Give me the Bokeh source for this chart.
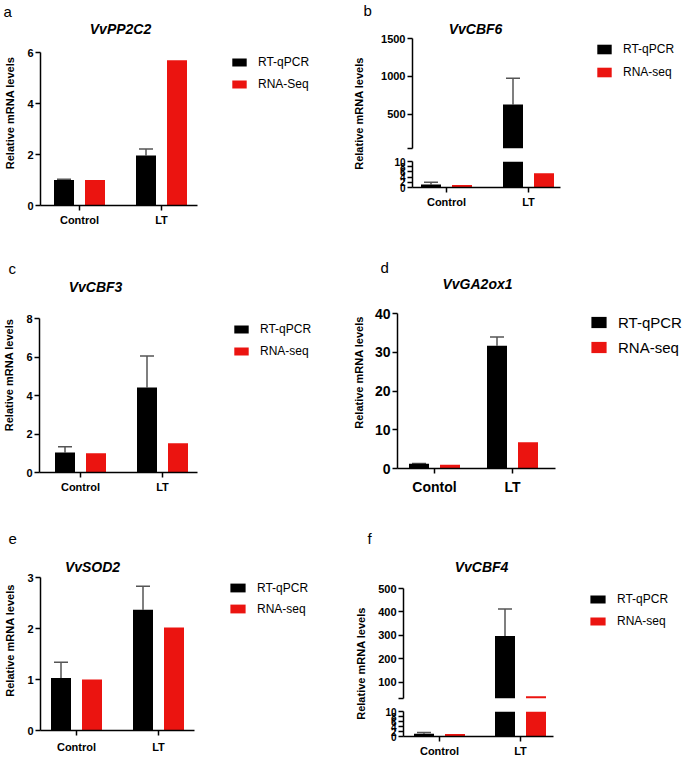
import math
from bokeh.plotting import figure
from bokeh.models import Range1d, FixedTicker, Label, Legend, LegendItem
from bokeh.layouts import row, column
from bokeh.embed import file_html
from bokeh.resources import INLINE

FONT = "Liberation Sans"
BLACK = "#000000"
RED = "#EB1410"
ERR = "#555555"

# ---------------- data ----------------
categories = ["Control", "LT"]
categories_d = ["Contol", "LT"]
series = ["RT-qPCR", "RNA-seq"]
series_a = ["RT-qPCR", "RNA-Seq"]
y_title = "Relative mRNA levels"

genes = ["VvPP2C2", "VvCBF6", "VvCBF3", "VvGA2ox1", "VvSOD2", "VvCBF4"]
letters = ["a", "b", "c", "d", "e", "f"]

a_rt = [1.0, 1.96]
a_err = [0.03, 0.26]
a_seq = [1.0, 5.7]

b_rt = [1.2, 630.0]
b_err = [0.8, 345.0]
b_seq = [1.0, 5.5]

c_rt = [1.04, 4.42]
c_err = [0.3, 1.63]
c_seq = [1.0, 1.52]

d_rt = [1.2, 31.7]
d_err = [0.1, 2.3]
d_seq = [1.0, 6.8]

e_rt = [1.03, 2.37]
e_err = [0.31, 0.46]
e_seq = [1.0, 2.02]

f_rt = [1.1, 297.0]
f_err = [0.5, 115.0]
f_seq = [1.0, 40.0]

a_ticks = [0, 2, 4, 6]
b_ticks_top = [50, 500, 1000, 1500]
b_ticks_low = [0, 2, 4, 6, 8, 10]
c_ticks = [0, 2, 4, 6, 8]
d_ticks = [0, 10, 20, 30, 40]
e_ticks = [0, 1, 2, 3]
f_ticks_top = [30, 100, 200, 300, 400, 500]
f_ticks_low = [0, 2, 4, 6, 8, 10]


# ---------------- helpers ----------------
def make_main(x0, y0, w, h, fl, fb, axis_top, ylo, yhi, t, axis_right, ft=None, show_x=True):
    """Figure whose frame starts at the y axis (fl) and x axis (fb) and runs to the
    canvas top/right; the axes are bounded to their drawn extent."""
    if ft is None:
        ft = y0
    ppu = (fb - axis_top) / (yhi - ylo)
    y_end = yhi + (axis_top - ft) / ppu
    scale = t[1] - t[0]
    xs = -(t[0] - fl) / scale
    xe = 1 + (x0 + w - t[1]) / scale
    xb_end = 1 + (axis_right - t[1]) / scale
    p = figure(width=w, height=h, x_range=Range1d(xs, xe), y_range=Range1d(ylo, y_end),
               output_backend="svg", toolbar_location=None,
               min_border_left=fl - x0, min_border_right=0,
               min_border_top=ft - y0, min_border_bottom=y0 + h - fb,
               x_axis_location="below" if show_x else None)
    p.frame_align = False
    p.grid.visible = False
    p.outline_line_color = None
    p.yaxis[0].bounds = (ylo, yhi)
    if show_x:
        p.xaxis[0].bounds = (xs, xb_end)
    return p, dict(fl=fl, fb=fb, scale=scale, lo=ylo)


def plain_fig(w, h):
    p = figure(width=w, height=h, output_backend="svg", toolbar_location=None,
               min_border_left=0, min_border_right=0, min_border_top=0, min_border_bottom=0,
               x_axis_location=None, y_axis_location=None,
               x_range=Range1d(0, 1), y_range=Range1d(0, 1))
    p.frame_align = False
    p.grid.visible = False
    p.outline_line_color = None
    return p


def text_at(p, x0, y0, h, px, py, text, size, style="normal", align="left", angle=0.0):
    """Label at page position (px, py) inside a figure whose frame is the canvas."""
    p.add_layout(Label(x=px - x0, y=(y0 + h) - py, x_units="screen", y_units="screen",
                       text=text, text_font=FONT, text_font_size=size, text_font_style=style,
                       text_align=align, text_baseline="middle", angle=angle,
                       text_color="black"))


def page_label(p, g, px, py, text, size, style="normal", align="center"):
    p.add_layout(Label(x=px - g["fl"], y=g["fb"] - py, x_units="screen", y_units="screen",
                       text=text, text_font=FONT, text_font_size=size, text_font_style=style,
                       text_align=align, text_baseline="middle", text_color="black"))


def add_bars(p, g, rt, err, seq):
    s = g["scale"]
    lo = g["lo"]
    off = 15.5 / s
    bw = 20.0 / s
    cap = 7.0 / s
    idx = list(range(len(categories)))
    xb = [i - off for i in idx]
    xr = [i + off for i in idx]
    up = [v + e for v, e in zip(rt, err)]
    p.segment(x0=xb, y0=rt, x1=xb, y1=up, line_color=ERR, line_width=1.5)
    p.segment(x0=[x - cap for x in xb], y0=up, x1=[x + cap for x in xb], y1=up,
              line_color=ERR, line_width=1.5)
    r1 = p.vbar(x=xb, top=[max(v, lo) for v in rt], bottom=lo, width=bw,
                fill_color=BLACK, line_color=None)
    r2 = p.vbar(x=xr, top=[max(v, lo) for v in seq], bottom=lo, width=bw,
                fill_color=RED, line_color=None)
    return r1, r2


def add_legend(p, g, rends, labels, gx, gtop, gw, gh, pitch, size):
    fs = int(size.replace("px", ""))
    item_h = max(gh, round(fs * 1.15))
    sp = pitch - item_h
    top = gtop - (item_h - gh) / 2
    H = item_h * 2 + sp
    leg = Legend(items=[LegendItem(label=l, renderers=[r]) for l, r in zip(labels, rends)],
                 location=(gx - g["fl"], g["fb"] - (top + H)),
                 orientation="vertical", padding=0, margin=0,
                 border_line_color=None, background_fill_alpha=0,
                 glyph_width=gw, glyph_height=gh, label_height=gh,
                 label_standoff=10, spacing=sp,
                 label_text_font=FONT, label_text_font_size=size,
                 label_text_color="black", label_text_baseline="middle")
    p.add_layout(leg)


def style_axis(ax, size, tick_out=5, standoff=2):
    ax.axis_line_color = "black"
    ax.axis_line_width = 1.5
    ax.major_tick_line_color = "black"
    ax.major_tick_line_width = 1.5
    ax.major_tick_out = tick_out
    ax.major_tick_in = 0
    ax.minor_tick_line_color = None
    ax.major_label_text_font = FONT
    ax.major_label_text_font_style = "bold"
    ax.major_label_text_font_size = size
    ax.major_label_standoff = standoff
    ax.major_label_text_color = "black"


def style_y(p, ticks, size, label=None, lab_standoff=6, overrides=None):
    ax = p.yaxis[0]
    ax.ticker = FixedTicker(ticks=ticks)
    style_axis(ax, size)
    if overrides:
        ax.major_label_overrides = overrides
    if label:
        ax.axis_label = label
        ax.axis_label_text_font = FONT
        ax.axis_label_text_font_style = "bold"
        ax.axis_label_text_font_size = "11px"
        ax.axis_label_standoff = lab_standoff
        ax.axis_label_text_color = "black"


def style_x(p, cats, size, standoff=3):
    ax = p.xaxis[0]
    ax.ticker = FixedTicker(ticks=list(range(len(cats))))
    ax.major_label_overrides = {i: c for i, c in enumerate(cats)}
    style_axis(ax, size, standoff=standoff)


LW = 340   # left column width
RW = 344   # right column width
BOTTOM = 759

# ================= left column =================
SA = plain_fig(LW, 20)
text_at(SA, 0, 0, 20, 3, 11, letters[0], "15px")
A, ga = make_main(0, 20, LW, 210, 40, 205, 52, 0, 6, (79, 161), 197)
ra = add_bars(A, ga, a_rt, a_err, a_seq)
style_y(A, a_ticks, "11px", y_title, 8)
style_x(A, categories, "11px")
page_label(A, ga, 120, 28.5, genes[0], "14px", "bold italic")
add_legend(A, ga, ra, series_a, 230, 57, 18, 10, 22, "12px")

SC = plain_fig(LW, 47)
text_at(SC, 0, 230, 47, 8, 268, letters[2], "15px")
C, gc = make_main(0, 277, LW, 220, 39, 472, 318, 0, 8, (80, 162), 197)
rc = add_bars(C, gc, c_rt, c_err, c_seq)
style_y(C, c_ticks, "11px", y_title, 8)
style_x(C, categories, "11px")
page_label(C, gc, 95, 286, genes[2], "14px", "bold italic")
add_legend(C, gc, rc, series, 232, 324, 18, 10, 22, "12px")

SE = plain_fig(LW, 53)
text_at(SE, 0, 497, 53, 8, 538, letters[4], "15px")
E, ge = make_main(0, 550, LW, BOTTOM - 550, 40, 730, 577, 0, 3, (76, 158), 194)
re_ = add_bars(E, ge, e_rt, e_err, e_seq)
style_y(E, e_ticks, "11px", y_title, 8)
style_x(E, categories, "11px", standoff=5)
page_label(E, ge, 92, 566, genes[4], "14px", "bold italic")
add_legend(E, ge, re_, series, 228, 582, 19, 11, 21, "12px")

# ================= right column =================
# panel b (broken axis)
LBW = 34
Lb = plain_fig(LBW, 210)
text_at(Lb, 340, 0, 210, 358, 113, y_title, "11px", "bold", "center", math.pi / 2)
text_at(Lb, 340, 0, 210, 363, 9.5, letters[1], "15px")
B1, gb1 = make_main(374, 0, RW - LBW, 154, 412, 148, 38, 50, 1500, (446, 528), 560,
                    show_x=False)
rb = add_bars(B1, gb1, b_rt, b_err, b_seq)
style_y(B1, b_ticks_top, "11px", overrides={50: ""})
page_label(B1, gb1, 475, 28, genes[1], "14px", "bold italic")
add_legend(B1, gb1, rb, series, 595, 43, 18, 12, 23, "12px")
B2, gb2 = make_main(374, 154, RW - LBW, 56, 412, 188, 161, 0, 10, (446, 528), 560, ft=161)
add_bars(B2, gb2, b_rt, b_err, b_seq)
style_y(B2, b_ticks_low, "10px")
style_x(B2, categories, "11px")

# panel d
SD = plain_fig(RW, 66)
text_at(SD, 340, 210, 66, 380, 267, letters[3], "15px")
D, gd = make_main(340, 276, RW, 221, 397, 472, 314, 0, 40, (434, 512), 555)
rd = add_bars(D, gd, d_rt, d_err, d_seq)
style_y(D, d_ticks, "14px", y_title, 7)
style_x(D, categories_d, "14px", standoff=5)
page_label(D, gd, 477, 287, genes[3], "14px", "bold italic")
add_legend(D, gd, rd, series, 589, 319, 19, 14, 25, "15px")

# panel f (broken axis)
Lf = plain_fig(LBW, BOTTOM - 497)
text_at(Lf, 340, 497, BOTTOM - 497, 360, 663, y_title, "11px", "bold", "center", math.pi / 2)
text_at(Lf, 340, 497, BOTTOM - 497, 367, 538, letters[5], "15px")
F1, gf1 = make_main(374, 497, RW - LBW, 207, 403, 698, 588, 30, 500, (439, 520), 553,
                    show_x=False)
rf = add_bars(F1, gf1, f_rt, f_err, f_seq)
style_y(F1, f_ticks_top, "11px", overrides={30: ""})
page_label(F1, gf1, 481, 566, genes[5], "14px", "bold italic")
add_legend(F1, gf1, rf, series, 588, 594, 19, 10, 22, "12px")
F2, gf2 = make_main(374, 704, RW - LBW, BOTTOM - 704, 403, 738, 711, 0, 10, (439, 520), 553,
                    ft=711)
add_bars(F2, gf2, f_rt, f_err, f_seq)
style_y(F2, f_ticks_low, "10px")
style_x(F2, categories, "11px", standoff=3)

left = column(SA, A, SC, C, SE, E, spacing=0)
right = column(row(Lb, column(B1, B2, spacing=0), spacing=0), SD, D,
               row(Lf, column(F1, F2, spacing=0), spacing=0), spacing=0)
root = row(left, right, spacing=0)

open("out.html", "w").write(file_html(root, INLINE))
